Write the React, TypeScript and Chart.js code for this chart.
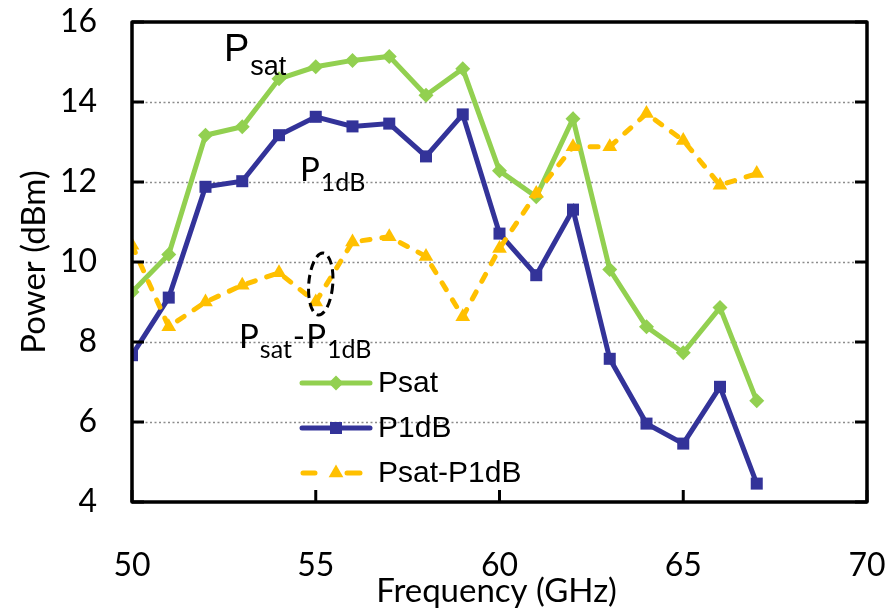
import React, { useEffect, useRef } from "react";
import { Chart, registerables } from "chart.js";

Chart.register(...registerables);

// Measured output power versus frequency
const frequencies = [50, 51, 52, 53, 54, 55, 56, 57, 58, 59, 60, 61, 62, 63, 64, 65, 66, 67];
const psatValues = [9.25, 10.19, 13.17, 13.38, 14.58, 14.88, 15.04, 15.14, 14.17, 14.83, 12.28, 11.63, 13.58, 9.81, 8.38, 7.73, 8.86, 6.53];
const p1dbValues = [7.67, 9.11, 11.88, 12.02, 13.17, 13.63, 13.39, 13.46, 12.64, 13.69, 10.71, 9.67, 11.31, 7.58, 5.96, 5.46, 6.88, 4.46];
const deltaValues = [10.42, 8.38, 9.0, 9.42, 9.73, 9.0, 10.5, 10.63, 10.14, 8.63, 10.34, 11.71, 12.88, 12.88, 13.71, 13.04, 11.92, 12.21];

const seriesNames = ["Psat", "P1dB", "Psat-P1dB"];
const xTickValues = [50, 55, 60, 65, 70];
const yTickValues = [4, 6, 8, 10, 12, 14, 16];

const GREEN = "#92D050";
const NAVY = "#333399";
const AMBER = "#FFC000";

const TICK_FONT = "Lato";
const NOTE_FONT = "Liberation Sans";

const toPoints = (ys: number[]) => frequencies.map((f, i) => ({ x: f, y: ys[i] }));

// Filled marker shapes for the legend samples (same geometry as Chart.js point styles)
function drawMarker(ctx: CanvasRenderingContext2D, style: string, r: number, cx: number, cy: number, color: string) {
  ctx.save();
  ctx.fillStyle = color;
  ctx.beginPath();
  if (style === "rectRot") {
    ctx.moveTo(cx, cy - r);
    ctx.lineTo(cx + r, cy);
    ctx.lineTo(cx, cy + r);
    ctx.lineTo(cx - r, cy);
  } else if (style === "rect") {
    const s = Math.SQRT1_2 * r;
    ctx.rect(cx - s, cy - s, 2 * s, 2 * s);
  } else {
    ctx.moveTo(cx, cy - r);
    ctx.lineTo(cx + (r * Math.sqrt(3)) / 2, cy + r / 2);
    ctx.lineTo(cx - (r * Math.sqrt(3)) / 2, cy + r / 2);
  }
  ctx.closePath();
  ctx.fill();
  ctx.restore();
}

// Draws text runs where some runs are lowered subscripts
function drawSubscripted(
  ctx: CanvasRenderingContext2D,
  x: number,
  baseline: number,
  parts: { text: string; sub: boolean }[],
  family: string,
  mainSize: number,
  subSize: number,
  subDrop: number
) {
  let cx = x;
  ctx.fillStyle = "#000";
  ctx.textAlign = "left";
  ctx.textBaseline = "alphabetic";
  for (const p of parts) {
    ctx.font = `${p.sub ? subSize : mainSize}px "${family}"`;
    ctx.fillText(p.text, cx, p.sub ? baseline + subDrop : baseline);
    cx += ctx.measureText(p.text).width + 1;
  }
}

const zeroPadding = (scale: any) => {
  scale.paddingTop = 0;
  scale.paddingBottom = 0;
  scale.paddingLeft = 0;
  scale.paddingRight = 0;
};

const framePlugin = {
  id: "frameAndNotes",
  beforeDatasetsDraw(chart: any) {
    const { ctx, chartArea: a, scales } = chart;
    const y = scales.y;
    ctx.save();
    // dotted horizontal grid
    ctx.strokeStyle = "#8c8c8c";
    ctx.lineWidth = 1.5;
    ctx.setLineDash([2, 2.5]);
    for (const v of yTickValues) {
      if (v === yTickValues[0] || v === yTickValues[yTickValues.length - 1]) continue;
      const py = Math.round(y.getPixelForValue(v)) + 0.5;
      ctx.beginPath();
      ctx.moveTo(a.left, py);
      ctx.lineTo(a.right, py);
      ctx.stroke();
    }
    ctx.restore();
  },
  afterDatasetsDraw(chart: any) {
    const { ctx, chartArea: a, scales } = chart;
    const x = scales.x;
    const y = scales.y;
    ctx.save();

    // frame
    ctx.strokeStyle = "#000";
    ctx.lineWidth = 3.5;
    ctx.setLineDash([]);
    ctx.lineJoin = "round";
    ctx.strokeRect(a.left, a.top, a.right - a.left, a.bottom - a.top);

    // inward tick marks
    ctx.lineWidth = 3;
    for (const v of yTickValues) {
      const py = y.getPixelForValue(v);
      ctx.beginPath();
      ctx.moveTo(a.left, py);
      ctx.lineTo(a.left + 12, py);
      ctx.moveTo(a.right, py);
      ctx.lineTo(a.right - 12, py);
      ctx.stroke();
    }
    for (const v of xTickValues) {
      const px = x.getPixelForValue(v);
      ctx.beginPath();
      ctx.moveTo(px, a.bottom);
      ctx.lineTo(px, a.bottom - 12);
      ctx.stroke();
    }

    // axis titles
    ctx.fillStyle = "#000";
    ctx.font = `33px "${TICK_FONT}"`;
    ctx.textAlign = "center";
    ctx.textBaseline = "middle";
    ctx.fillText("Frequency (GHz)", x.getPixelForValue(60) - 3, 591);
    ctx.save();
    ctx.translate(34, (a.top + a.bottom) / 2);
    ctx.rotate(-Math.PI / 2);
    ctx.fillText("Power (dBm)", 0, 0);
    ctx.restore();

    // curve labels
    drawSubscripted(ctx, 224, 61, [{ text: "P", sub: false }, { text: "sat", sub: true }], NOTE_FONT, 38, 27, 14);
    drawSubscripted(ctx, 300, 181, [{ text: "P", sub: false }, { text: "1dB", sub: true }], TICK_FONT, 33, 25, 10);
    drawSubscripted(
      ctx,
      239,
      348,
      [
        { text: "P", sub: false },
        { text: "sat", sub: true },
        { text: "-", sub: false },
        { text: "P", sub: false },
        { text: "1dB", sub: true },
      ],
      TICK_FONT,
      33,
      25,
      10
    );

    // dashed ellipse around the 55 GHz difference point
    ctx.strokeStyle = "#000";
    ctx.lineWidth = 3;
    ctx.setLineDash([9, 5]);
    ctx.beginPath();
    ctx.ellipse(x.getPixelForValue(55) + 5, y.getPixelForValue(9.45), 12, 31, 0.08, 0, Math.PI * 2);
    ctx.stroke();
    ctx.setLineDash([]);

    // legend
    const rows = [383, 428, 473];
    chart.data.datasets.forEach((ds: any, i: number) => {
      const ry = rows[i];
      const x0 = 300;
      const x1 = 372;
      const mx = (x0 + x1) / 2;
      ctx.save();
      ctx.strokeStyle = ds.borderColor;
      ctx.lineWidth = ds.borderWidth;
      ctx.lineCap = "round";
      ctx.setLineDash([]);
      ctx.beginPath();
      if (ds.borderDash && ds.borderDash.length) {
        ctx.moveTo(x0 + 3, ry);
        ctx.lineTo(x0 + 15, ry);
        ctx.moveTo(x1 - 25, ry);
        ctx.lineTo(x1 - 12, ry);
      } else {
        ctx.moveTo(x0 + 2, ry);
        ctx.lineTo(x1 - 2, ry);
      }
      ctx.stroke();
      ctx.restore();
      drawMarker(ctx, ds.pointStyle, ds.pointRadius, mx, ry, ds.borderColor);
      ctx.fillStyle = "#000";
      ctx.font = `30px "${NOTE_FONT}"`;
      ctx.textAlign = "left";
      ctx.textBaseline = "middle";
      ctx.fillText(ds.label, 378, ry + 1);
    });

    ctx.restore();
  },
};

export default function App() {
  const canvasRef = useRef<HTMLCanvasElement | null>(null);

  useEffect(() => {
    const canvas = canvasRef.current;
    if (!canvas) return;

    const chart = new Chart(canvas, {
      type: "line",
      data: {
        datasets: [
          {
            label: seriesNames[0],
            data: toPoints(psatValues),
            borderColor: GREEN,
            backgroundColor: GREEN,
            borderWidth: 5,
            pointStyle: "rectRot",
            pointRadius: 7.5,
            pointBorderWidth: 0,
            pointBackgroundColor: GREEN,
            tension: 0,
            order: 2,
          },
          {
            label: seriesNames[1],
            data: toPoints(p1dbValues),
            borderColor: NAVY,
            backgroundColor: NAVY,
            borderWidth: 5,
            pointStyle: "rect",
            pointRadius: 8.5,
            pointBorderWidth: 0,
            pointBackgroundColor: NAVY,
            tension: 0,
            order: 1,
          },
          {
            label: seriesNames[2],
            data: toPoints(deltaValues),
            borderColor: AMBER,
            backgroundColor: AMBER,
            borderWidth: 5,
            borderDash: [8, 12],
            borderCapStyle: "round",
            pointStyle: "triangle",
            pointRadius: 8.5,
            pointBorderWidth: 0,
            pointBackgroundColor: AMBER,
            tension: 0,
            order: 0,
          },
        ] as any,
      },
      plugins: [framePlugin],
      options: {
        animation: false,
        responsive: false,
        devicePixelRatio: 1,
        layout: { padding: { left: 0, top: 22, right: 22, bottom: 0 } },
        plugins: {
          legend: { display: false },
          tooltip: { enabled: false },
        },
        scales: {
          x: {
            type: "linear",
            min: 50,
            max: 70,
            afterBuildTicks: (scale: any) => {
              scale.ticks = xTickValues.map((v) => ({ value: v }));
            },
            afterFit: (scale: any) => {
              scale.height = 109;
              zeroPadding(scale);
            },
            ticks: {
              color: "#000",
              font: { family: TICK_FONT, size: 32 },
              padding: 44,
              maxRotation: 0,
            },
            grid: { display: false, drawTicks: false },
            border: { display: false },
          },
          y: {
            type: "linear",
            min: 4,
            max: 16,
            afterBuildTicks: (scale: any) => {
              scale.ticks = yTickValues.map((v) => ({ value: v }));
            },
            afterFit: (scale: any) => {
              scale.width = 132;
              zeroPadding(scale);
            },
            ticks: {
              color: "#000",
              font: { family: TICK_FONT, size: 32 },
              padding: 35,
            },
            grid: { display: false, drawTicks: false },
            border: { display: false },
          },
        },
      } as any,
    });

    return () => chart.destroy();
  }, []);

  return (
    <div style={{ position: "absolute", left: 0, top: 0, width: 889, height: 611, background: "#fff" }}>
      <canvas ref={canvasRef} width={889} height={611} style={{ display: "block" }} />
    </div>
  );
}
